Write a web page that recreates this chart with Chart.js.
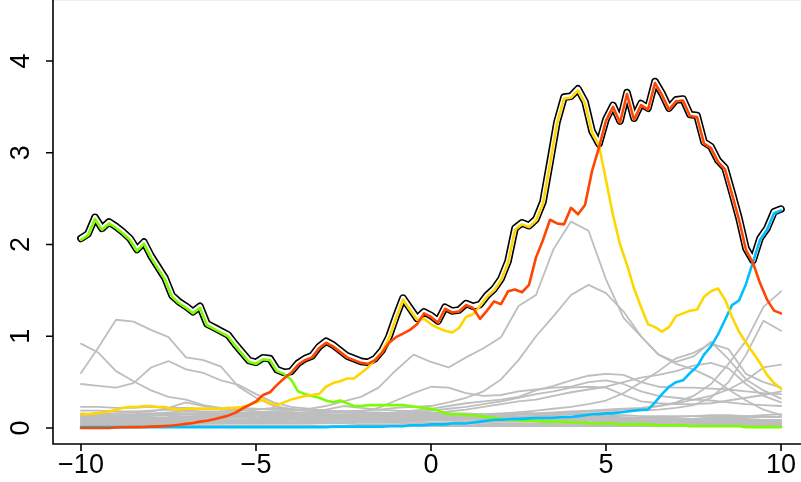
<!DOCTYPE html>
<html>
<head>
<meta charset="utf-8">
<script src="https://cdn.jsdelivr.net/npm/chart.js@4.4.0/dist/chart.umd.min.js"></script>
<style>
html, body { margin: 0; padding: 0; background: #fff; }
</style>
</head>
<body>
<canvas id="chart" width="801" height="482"></canvas>
<script>
// x grid of the four coloured series (step 0.2)
const X = [
  -10, -9.8, -9.6, -9.4, -9.2, -9, -8.8, -8.6, -8.4, -8.2,
  -8, -7.8, -7.6, -7.4, -7.2, -7, -6.8, -6.6, -6.4, -6.2,
  -6, -5.8, -5.6, -5.4, -5.2, -5, -4.8, -4.6, -4.4, -4.2,
  -4, -3.8, -3.6, -3.4, -3.2, -3, -2.8, -2.6, -2.4, -2.2,
  -2, -1.8, -1.6, -1.4, -1.2, -1, -0.8, -0.6, -0.4, -0.2,
  0, 0.2, 0.4, 0.6, 0.8, 1, 1.2, 1.4, 1.6, 1.8,
  2, 2.2, 2.4, 2.6, 2.8, 3, 3.2, 3.4, 3.6, 3.8,
  4, 4.2, 4.4, 4.6, 4.8, 5, 5.2, 5.4, 5.6, 5.8,
  6, 6.2, 6.4, 6.6, 6.8, 7, 7.2, 7.4, 7.6, 7.8,
  8, 8.2, 8.4, 8.6, 8.8, 9, 9.2, 9.4, 9.6, 9.8,
  10
];

const GREEN = [
  2.05, 2.10, 2.28, 2.16, 2.23, 2.18, 2.12, 2.05, 1.93, 2.01,
  1.86, 1.74, 1.62, 1.43, 1.36, 1.31, 1.25, 1.31, 1.12, 1.08,
  1.04, 1.00, 0.90, 0.81, 0.72, 0.70, 0.75, 0.74, 0.62, 0.59,
  0.53, 0.40, 0.37, 0.35, 0.33, 0.30, 0.28, 0.30, 0.27, 0.24,
  0.24, 0.25, 0.25, 0.25, 0.25, 0.25, 0.25, 0.24, 0.23, 0.22,
  0.21, 0.19, 0.16, 0.15, 0.15, 0.14, 0.14, 0.13, 0.12, 0.11,
  0.10, 0.09, 0.09, 0.08, 0.08, 0.08, 0.07, 0.07, 0.07, 0.07,
  0.06, 0.06, 0.06, 0.05, 0.05, 0.05, 0.05, 0.04, 0.04, 0.04,
  0.04, 0.04, 0.03, 0.03, 0.03, 0.03, 0.03, 0.02, 0.02, 0.02,
  0.02, 0.02, 0.02, 0.02, 0.02, 0.01, 0.01, 0.01, 0.01, 0.01,
  0.01
];

const ORANGE = [
  0.00, 0.00, 0.00, 0.00, 0.00, 0.005, 0.008, 0.01, 0.01, 0.012,
  0.015, 0.018, 0.022, 0.027, 0.035, 0.045, 0.055, 0.07, 0.08, 0.095,
  0.115, 0.135, 0.165, 0.21, 0.25, 0.29, 0.36, 0.39, 0.47, 0.54,
  0.60, 0.69, 0.74, 0.77, 0.87, 0.93, 0.89, 0.83, 0.77, 0.74,
  0.71, 0.70, 0.74, 0.82, 0.93, 0.99, 1.03, 1.07, 1.13, 1.25,
  1.21, 1.15, 1.30, 1.26, 1.27, 1.34, 1.31, 1.19, 1.28, 1.38,
  1.35, 1.49, 1.51, 1.48, 1.56, 1.86, 2.05, 2.27, 2.23, 2.22,
  2.40, 2.33, 2.43, 2.80, 3.06, 3.35, 3.50, 3.33, 3.64, 3.36,
  3.52, 3.47, 3.76, 3.63, 3.47, 3.56, 3.57, 3.40, 3.39, 3.10,
  3.05, 2.90, 2.82, 2.55, 2.27, 1.94, 1.80, 1.58, 1.40, 1.28,
  1.25
];

const YELLOW = [
  0.15, 0.15, 0.16, 0.17, 0.18, 0.20, 0.22, 0.23, 0.23, 0.24,
  0.24, 0.23, 0.23, 0.21, 0.20, 0.21, 0.21, 0.21, 0.21, 0.21,
  0.21, 0.22, 0.22, 0.23, 0.25, 0.28, 0.31, 0.27, 0.25, 0.28,
  0.31, 0.33, 0.35, 0.36, 0.37, 0.45, 0.49, 0.51, 0.54, 0.54,
  0.60, 0.66, 0.74, 0.83, 0.98, 1.20, 1.40, 1.29, 1.18, 1.19,
  1.13, 1.09, 1.06, 1.04, 1.09, 1.21, 1.24, 1.33, 1.43, 1.50,
  1.61, 1.80, 2.16, 2.22, 2.19, 2.26, 2.45, 2.88, 3.32, 3.59,
  3.60, 3.68, 3.54, 3.22, 3.08, 2.70, 2.32, 2.00, 1.78, 1.52,
  1.32, 1.13, 1.10, 1.05, 1.10, 1.22, 1.25, 1.28, 1.29, 1.43,
  1.49, 1.52, 1.40, 1.21, 1.05, 0.93, 0.82, 0.71, 0.58, 0.49,
  0.43
];

const BLUE = [
  0.01, 0.01, 0.01, 0.01, 0.01, 0.01, 0.01, 0.01, 0.01, 0.01,
  0.01, 0.01, 0.01, 0.01, 0.01, 0.01, 0.01, 0.01, 0.01, 0.01,
  0.01, 0.01, 0.01, 0.01, 0.01, 0.01, 0.01, 0.01, 0.01, 0.01,
  0.01, 0.01, 0.01, 0.01, 0.01, 0.01, 0.015, 0.015, 0.015, 0.015,
  0.015, 0.015, 0.015, 0.015, 0.02, 0.02, 0.02, 0.03, 0.03, 0.03,
  0.04, 0.04, 0.04, 0.05, 0.05, 0.05, 0.06, 0.07, 0.08, 0.09,
  0.09, 0.095, 0.10, 0.10, 0.105, 0.11, 0.11, 0.11, 0.115, 0.12,
  0.12, 0.13, 0.14, 0.15, 0.15, 0.16, 0.16, 0.17, 0.18, 0.19,
  0.20, 0.20, 0.28, 0.37, 0.45, 0.50, 0.52, 0.60, 0.67, 0.80,
  0.89, 1.02, 1.18, 1.34, 1.39, 1.57, 1.81, 2.05, 2.16, 2.34,
  2.37
];

// x grid of the gray background series (step 0.5)
const GX = [
  -10, -9.5, -9, -8.5, -8, -7.5, -7, -6.5, -6, -5.5,
  -5, -4.5, -4, -3.5, -3, -2.5, -2, -1.5, -1, -0.5,
  0, 0.5, 1, 1.5, 2, 2.5, 3, 3.5, 4, 4.5,
  5, 5.5, 6, 6.5, 7, 7.5, 8, 8.5, 9, 9.5,
  10
];

const GRAY_A = [
  0.60, 0.88, 1.18, 1.16, 1.07, 0.99, 0.77, 0.74, 0.67, 0.45,
  0.33, 0.24, 0.21, 0.19, 0.18, 0.17, 0.16, 0.15, 0.14, 0.14,
  0.13, 0.13, 0.12, 0.12, 0.11, 0.11, 0.10, 0.10, 0.10, 0.09,
  0.09, 0.09, 0.08, 0.08, 0.08, 0.08, 0.07, 0.07, 0.07, 0.07,
  0.06
];
const GRAY_B = [
  0.92, 0.82, 0.62, 0.51, 0.41, 0.34, 0.31, 0.25, 0.22, 0.20,
  0.18, 0.17, 0.16, 0.15, 0.14, 0.14, 0.13, 0.13, 0.12, 0.12,
  0.11, 0.11, 0.10, 0.10, 0.10, 0.09, 0.09, 0.09, 0.08, 0.08,
  0.08, 0.07, 0.07, 0.07, 0.07, 0.06, 0.06, 0.06, 0.06, 0.05,
  0.05
];
const GRAY_C = [
  0.48, 0.46, 0.44, 0.49, 0.66, 0.73, 0.64, 0.60, 0.52, 0.47,
  0.37, 0.28, 0.23, 0.21, 0.19, 0.18, 0.17, 0.16, 0.16, 0.15,
  0.15, 0.14, 0.14, 0.13, 0.13, 0.12, 0.12, 0.12, 0.11, 0.11,
  0.11, 0.10, 0.10, 0.10, 0.10, 0.09, 0.09, 0.09, 0.09, 0.08,
  0.08
];
const GRAY_D = [
  0.23, 0.23, 0.22, 0.22, 0.23, 0.22, 0.22, 0.21, 0.21, 0.22,
  0.21, 0.20, 0.20, 0.19, 0.18, 0.18, 0.17, 0.17, 0.16, 0.16,
  0.15, 0.15, 0.14, 0.14, 0.14, 0.13, 0.13, 0.13, 0.12, 0.12,
  0.12, 0.11, 0.11, 0.11, 0.10, 0.10, 0.10, 0.10, 0.09, 0.09,
  0.09
];
const GRAY_E = [
  0.12, 0.12, 0.13, 0.13, 0.14, 0.14, 0.15, 0.15, 0.16, 0.16,
  0.17, 0.18, 0.19, 0.21, 0.24, 0.29, 0.34, 0.44, 0.63, 0.80,
  0.72, 0.66, 0.77, 0.87, 0.99, 1.33, 1.45, 1.95, 2.25, 2.15,
  1.62, 1.20, 1.00, 0.80, 0.70, 0.64, 0.55, 0.42, 0.30, 0.20,
  0.14
];
const GRAY_F = [
  0.10, 0.10, 0.11, 0.11, 0.11, 0.12, 0.12, 0.12, 0.13, 0.13,
  0.14, 0.14, 0.15, 0.16, 0.17, 0.18, 0.19, 0.20, 0.22, 0.23,
  0.24, 0.28, 0.33, 0.40, 0.53, 0.74, 1.00, 1.22, 1.45, 1.56,
  1.47, 1.27, 1.00, 0.80, 0.72, 0.78, 0.94, 0.75, 0.53, 0.41,
  0.32
];
const GRAY_G = [
  0.08, 0.08, 0.09, 0.09, 0.09, 0.10, 0.10, 0.10, 0.11, 0.11,
  0.11, 0.12, 0.12, 0.13, 0.13, 0.14, 0.15, 0.16, 0.17, 0.19,
  0.21, 0.24, 0.27, 0.29, 0.31, 0.34, 0.41, 0.46, 0.52, 0.57,
  0.59, 0.58, 0.50, 0.45, 0.44, 0.44, 0.43, 0.42, 0.40, 0.38,
  0.37
];
const GRAY_H = [
  0.06, 0.06, 0.07, 0.07, 0.07, 0.08, 0.08, 0.08, 0.09, 0.09,
  0.10, 0.10, 0.11, 0.11, 0.12, 0.12, 0.13, 0.14, 0.15, 0.17,
  0.19, 0.21, 0.23, 0.26, 0.29, 0.33, 0.37, 0.40, 0.44, 0.45,
  0.44, 0.36, 0.29, 0.27, 0.26, 0.26, 0.27, 0.30, 0.33, 0.36,
  0.40
];
const GRAY_I = [
  0.05, 0.05, 0.05, 0.06, 0.06, 0.06, 0.06, 0.07, 0.07, 0.07,
  0.08, 0.08, 0.08, 0.09, 0.09, 0.10, 0.10, 0.11, 0.11, 0.12,
  0.12, 0.13, 0.13, 0.14, 0.14, 0.15, 0.15, 0.16, 0.17, 0.18,
  0.19, 0.20, 0.21, 0.24, 0.28, 0.35, 0.48, 0.70, 0.95, 1.32,
  1.49
];
const GRAY_J = [
  0.04, 0.04, 0.04, 0.04, 0.05, 0.05, 0.05, 0.05, 0.05, 0.06,
  0.06, 0.06, 0.06, 0.07, 0.07, 0.07, 0.08, 0.08, 0.08, 0.09,
  0.09, 0.10, 0.10, 0.11, 0.11, 0.12, 0.13, 0.14, 0.15, 0.16,
  0.17, 0.18, 0.19, 0.20, 0.22, 0.25, 0.33, 0.50, 0.80, 1.17,
  1.06
];
const GRAY_K = [
  0.03, 0.03, 0.03, 0.04, 0.04, 0.04, 0.04, 0.05, 0.05, 0.05,
  0.05, 0.06, 0.06, 0.06, 0.07, 0.07, 0.08, 0.08, 0.09, 0.10,
  0.11, 0.12, 0.13, 0.14, 0.15, 0.17, 0.19, 0.21, 0.23, 0.26,
  0.30, 0.38, 0.50, 0.62, 0.76, 0.82, 0.92, 0.86, 0.59, 0.50,
  0.44
];
const GRAY_L = [
  0.07, 0.07, 0.07, 0.08, 0.08, 0.08, 0.08, 0.09, 0.09, 0.09,
  0.09, 0.10, 0.10, 0.10, 0.11, 0.11, 0.11, 0.12, 0.12, 0.12,
  0.13, 0.13, 0.14, 0.14, 0.15, 0.15, 0.16, 0.17, 0.18, 0.19,
  0.20, 0.21, 0.22, 0.24, 0.27, 0.31, 0.35, 0.42, 0.52, 0.66,
  0.69
];
const GRAY_M = [
  0.09, 0.09, 0.10, 0.10, 0.10, 0.11, 0.11, 0.11, 0.12, 0.12,
  0.12, 0.13, 0.13, 0.13, 0.14, 0.14, 0.15, 0.15, 0.15, 0.16,
  0.16, 0.18, 0.20, 0.23, 0.26, 0.29, 0.31, 0.35, 0.39, 0.42,
  0.45, 0.50, 0.55, 0.58, 0.62, 0.68, 0.71, 0.65, 0.48, 0.35,
  0.28
];
const GRAY_N = [
  0.14, 0.14, 0.13, 0.13, 0.14, 0.14, 0.15, 0.15, 0.15, 0.16,
  0.16, 0.16, 0.17, 0.17, 0.17, 0.18, 0.18, 0.22, 0.30, 0.38,
  0.45, 0.44, 0.38, 0.35, 0.36, 0.40, 0.42, 0.44, 0.45, 0.50,
  0.52, 0.48, 0.40, 0.35, 0.33, 0.31, 0.30, 0.28, 0.26, 0.25,
  0.24
];

// the dense low band near zero
const LOW_1 = [
  0.19, 0.19, 0.18, 0.18, 0.19, 0.20, 0.19, 0.18, 0.18, 0.17,
  0.17, 0.16, 0.16, 0.16, 0.15, 0.15, 0.15, 0.14, 0.14, 0.14,
  0.13, 0.13, 0.13, 0.13, 0.12, 0.12, 0.12, 0.12, 0.12, 0.11,
  0.11, 0.11, 0.11, 0.11, 0.10, 0.10, 0.11, 0.12, 0.13, 0.14,
  0.15
];
const LOW_2 = [
  0.16, 0.15, 0.14, 0.15, 0.16, 0.17, 0.18, 0.17, 0.16, 0.15,
  0.15, 0.16, 0.17, 0.16, 0.15, 0.14, 0.14, 0.13, 0.12, 0.12,
  0.11, 0.11, 0.11, 0.10, 0.10, 0.10, 0.10, 0.09, 0.09, 0.09,
  0.09, 0.09, 0.10, 0.11, 0.12, 0.13, 0.14, 0.14, 0.13, 0.12,
  0.12
];
const LOW_3 = [
  0.13, 0.13, 0.12, 0.12, 0.13, 0.14, 0.15, 0.14, 0.13, 0.13,
  0.14, 0.15, 0.14, 0.13, 0.12, 0.12, 0.11, 0.11, 0.10, 0.10,
  0.10, 0.09, 0.09, 0.09, 0.08, 0.08, 0.08, 0.08, 0.08, 0.08,
  0.07, 0.07, 0.07, 0.08, 0.08, 0.09, 0.10, 0.10, 0.10, 0.09,
  0.09
];
const LOW_4 = [
  0.10, 0.10, 0.11, 0.10, 0.10, 0.11, 0.12, 0.13, 0.12, 0.12,
  0.11, 0.11, 0.12, 0.12, 0.11, 0.10, 0.10, 0.09, 0.09, 0.08,
  0.08, 0.08, 0.07, 0.07, 0.07, 0.07, 0.07, 0.06, 0.06, 0.06,
  0.06, 0.06, 0.06, 0.06, 0.07, 0.07, 0.07, 0.07, 0.07, 0.07,
  0.07
];
const LOW_5 = [
  0.08, 0.08, 0.08, 0.09, 0.09, 0.09, 0.10, 0.10, 0.10, 0.09,
  0.09, 0.09, 0.10, 0.10, 0.09, 0.09, 0.08, 0.08, 0.07, 0.07,
  0.06, 0.06, 0.06, 0.06, 0.05, 0.05, 0.05, 0.05, 0.05, 0.05,
  0.05, 0.05, 0.05, 0.05, 0.05, 0.05, 0.05, 0.05, 0.05, 0.05,
  0.05
];
const LOW_6 = [
  0.06, 0.06, 0.06, 0.06, 0.07, 0.07, 0.07, 0.08, 0.08, 0.07,
  0.07, 0.07, 0.08, 0.08, 0.07, 0.07, 0.06, 0.06, 0.06, 0.05,
  0.05, 0.05, 0.05, 0.04, 0.04, 0.04, 0.04, 0.04, 0.04, 0.04,
  0.04, 0.04, 0.04, 0.04, 0.04, 0.04, 0.04, 0.04, 0.04, 0.04,
  0.04
];
const LOW_7 = [
  0.04, 0.04, 0.04, 0.05, 0.05, 0.05, 0.05, 0.05, 0.06, 0.06,
  0.05, 0.05, 0.05, 0.05, 0.05, 0.05, 0.04, 0.04, 0.04, 0.04,
  0.03, 0.03, 0.03, 0.03, 0.03, 0.03, 0.03, 0.03, 0.03, 0.03,
  0.03, 0.03, 0.03, 0.03, 0.03, 0.03, 0.03, 0.03, 0.03, 0.03,
  0.03
];
const LOW_8 = [
  0.02, 0.02, 0.02, 0.02, 0.03, 0.03, 0.03, 0.03, 0.03, 0.03,
  0.03, 0.03, 0.03, 0.03, 0.02, 0.02, 0.02, 0.02, 0.02, 0.02,
  0.02, 0.02, 0.02, 0.02, 0.02, 0.02, 0.02, 0.02, 0.02, 0.02,
  0.02, 0.02, 0.02, 0.02, 0.02, 0.02, 0.02, 0.02, 0.02, 0.02,
  0.02
];
const LOW_9 = [
  0.11, 0.12, 0.13, 0.14, 0.15, 0.16, 0.15, 0.14, 0.13, 0.14,
  0.15, 0.14, 0.13, 0.12, 0.13, 0.14, 0.13, 0.12, 0.11, 0.10,
  0.10, 0.10, 0.11, 0.12, 0.12, 0.11, 0.10, 0.10, 0.11, 0.12,
  0.13, 0.12, 0.11, 0.10, 0.09, 0.09, 0.09, 0.08, 0.08, 0.08,
  0.08
];
const LOW_10 = [
  0.15, 0.15, 0.16, 0.17, 0.18, 0.22, 0.28, 0.24, 0.20, 0.19,
  0.20, 0.22, 0.20, 0.19, 0.20, 0.24, 0.22, 0.20, 0.19, 0.18,
  0.17, 0.16, 0.16, 0.15, 0.16, 0.17, 0.16, 0.15, 0.15, 0.14,
  0.14, 0.14, 0.13, 0.13, 0.13, 0.13, 0.12, 0.12, 0.12, 0.12,
  0.12
];

const GRAY_SERIES = [LOW_8, LOW_7, LOW_6, LOW_5, LOW_4, LOW_3, LOW_9, LOW_2, LOW_1, LOW_10,
  GRAY_D, GRAY_A, GRAY_B, GRAY_C, GRAY_E, GRAY_F, GRAY_G, GRAY_H, GRAY_I, GRAY_J,
  GRAY_K, GRAY_L, GRAY_M, GRAY_N];

const X_TICKS = [-10, -5, 0, 5, 10];
const X_TICK_LABELS = ['\u221210', '\u22125', '0', '5', '10'];
const Y_TICKS = [0, 1, 2, 3, 4];
const Y_TICK_LABELS = ['0', '1', '2', '3', '4'];

const pts = (xs, ys) => xs.map((x, i) => ({ x, y: ys[i] }));
// upper envelope of the four coloured series
const ENVELOPE = X.map((_, i) => Math.max(GREEN[i], ORANGE[i], YELLOW[i], BLUE[i]));

const lineBase = { pointRadius: 0, tension: 0, fill: false, borderCapStyle: 'round', borderJoinStyle: 'round' };

const datasets = [];
[['#ff4500', ORANGE], ['#ffd700', YELLOW], ['#00bfff', BLUE], ['#7cfc00', GREEN]].forEach(([c, s]) => {
  datasets.push({ ...lineBase, data: pts(X, s), borderColor: c, borderWidth: 2.6, order: 0 });
});
datasets.push({ ...lineBase, data: pts(X, ENVELOPE), borderColor: '#ffffff', borderWidth: 4.4, order: 1, shiftUp: true });
datasets.push({ ...lineBase, data: pts(X, ENVELOPE), borderColor: '#000000', borderWidth: 7.6, order: 2, shiftUp: true });
GRAY_SERIES.forEach(s => {
  datasets.push({ ...lineBase, data: pts(GX, s), borderColor: '#bebebe', borderWidth: 1.8, order: 3 });
});

const envShift = {
  id: 'envShift',
  beforeDatasetDraw(chart, args) {
    if (chart.data.datasets[args.index].shiftUp) { chart.ctx.save(); chart.ctx.translate(0, -1.5); }
  },
  afterDatasetDraw(chart, args) {
    if (chart.data.datasets[args.index].shiftUp) chart.ctx.restore();
  }
};

const rAxes = {
  id: 'rAxes',
  afterDraw(chart) {
    const { ctx, chartArea: a, scales: { x, y } } = chart;
    ctx.save();
    ctx.strokeStyle = '#f0f0f0';
    ctx.lineWidth = 1;
    ctx.beginPath(); ctx.moveTo(a.left, 0.5); ctx.lineTo(a.right, 0.5); ctx.stroke();
    ctx.strokeStyle = '#000';
    ctx.lineWidth = 1.6;
    ctx.beginPath();
    ctx.moveTo(a.left, a.top); ctx.lineTo(a.left, a.bottom); ctx.lineTo(a.right, a.bottom);
    Y_TICKS.forEach(v => { const py = y.getPixelForValue(v); ctx.moveTo(a.left - 7, py); ctx.lineTo(a.left, py); });
    X_TICKS.forEach(v => { const px = x.getPixelForValue(v); ctx.moveTo(px, a.bottom); ctx.lineTo(px, a.bottom + 7); });
    ctx.stroke();
    ctx.fillStyle = '#000';
    ctx.font = '27px "Liberation Sans", Arial, sans-serif';
    ctx.textAlign = 'center';
    ctx.textBaseline = 'middle';
    X_TICKS.forEach((v, i) => ctx.fillText(X_TICK_LABELS[i], x.getPixelForValue(v), 466));
    Y_TICKS.forEach((v, i) => {
      ctx.save();
      ctx.translate(22, y.getPixelForValue(v));
      ctx.rotate(-Math.PI / 2);
      ctx.fillText(Y_TICK_LABELS[i], 0, 0);
      ctx.restore();
    });
    ctx.restore();
  }
};

new Chart(document.getElementById('chart').getContext('2d'), {
  type: 'line',
  data: { datasets },
  options: {
    responsive: false,
    animation: false,
    events: [],
    layout: { padding: { left: 53, right: 0, top: 0, bottom: 38 } },
    plugins: { legend: { display: false }, tooltip: { enabled: false } },
    scales: {
      x: { type: 'linear', min: -10.8, max: 10.571, display: false },
      y: { type: 'linear', min: -0.174, max: 4.665, display: false }
    }
  },
  plugins: [envShift, rAxes]
});
</script>
</body>
</html>
